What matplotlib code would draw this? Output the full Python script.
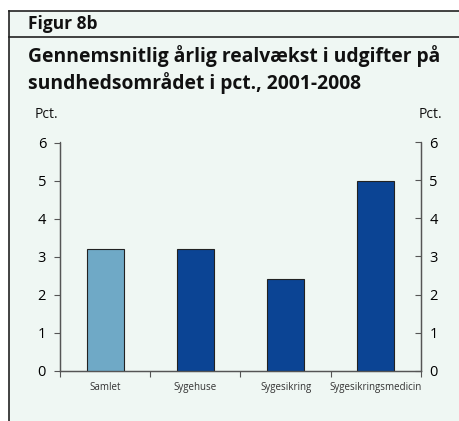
import matplotlib
matplotlib.use("Agg")
import matplotlib.pyplot as plt
from matplotlib.lines import Line2D
from matplotlib.patches import Rectangle

categories = ["Samlet", "Sygehuse", "Sygesikring", "Sygesikringsmedicin"]
values = [3.2, 3.2, 2.4, 5.0]
bar_colors = ["#6fa9c6", "#0b4494", "#0b4494", "#0b4494"]
yticks = [0, 1, 2, 3, 4, 5, 6]

BG = "#eff7f3"
SPINE = "#555555"
FONT = "Open Sans"

W, H = 460, 421
fig = plt.figure(figsize=(W / 100, H / 100), dpi=100)

# panel background and frame lines
fig.patches.append(Rectangle((9 / W, 0), 1 - 9 / W, 1 - 11 / H,
                             transform=fig.transFigure, facecolor=BG,
                             edgecolor="none", zorder=-10))
for xs, ys in [([9 / W, 9 / W], [0, 1 - 11 / H]),
               ([9 / W, 1], [1 - 11 / H, 1 - 11 / H]),
               ([9 / W, 1], [1 - 37 / H, 1 - 37 / H])]:
    fig.lines.append(Line2D(xs, ys, transform=fig.transFigure,
                            color="#222222", lw=1.2, zorder=-5))

fig.text(28 / W, 1 - 24 / H, "Figur 8b", fontsize=12.5, fontweight="bold",
         family=FONT, va="center", ha="left", color="#111111")
fig.text(28 / W, 1 - 56 / H, "Gennemsnitlig årlig realvækst i udgifter på",
         fontsize=13.9, fontweight="bold", family=FONT, va="center",
         ha="left", color="#111111")
fig.text(28 / W, 1 - 83 / H, "sundhedsområdet i pct., 2001-2008",
         fontsize=13.9, fontweight="bold", family=FONT, va="center",
         ha="left", color="#111111")

ax = fig.add_axes([60 / W, 50.5 / H, 361 / W, 228 / H])
ax.set_facecolor(BG)
x = range(len(categories))
ax.bar(x, values, width=0.41, color=bar_colors, edgecolor="#222222",
       linewidth=0.8, zorder=3)
ax.set_xlim(-0.5, len(categories) - 0.5)
ax.set_ylim(0, 6)
ax.set_yticks(yticks)
ax.set_xticks([i - 0.5 for i in range(len(categories) + 1)], minor=False)
ax.set_xticklabels([])
ax.set_xticks(list(x), minor=True)
ax.set_xticklabels(categories, minor=True, fontsize=7, family=FONT,
                   color="#333333")
ax.tick_params(axis="x", which="minor", length=0, pad=8)
ax.tick_params(axis="x", which="major", length=4, direction="out",
               color=SPINE)
ax.tick_params(axis="y", length=4, direction="out", color=SPINE,
               labelsize=10.5, pad=6)
for lbl in ax.get_yticklabels():
    lbl.set_family(FONT)
ax.spines["top"].set_visible(False)
for s in ["left", "right", "bottom"]:
    ax.spines[s].set_color(SPINE)
    ax.spines[s].set_linewidth(0.9)

ax2 = ax.twinx()
ax2.set_ylim(0, 6)
ax2.set_yticks(yticks)
ax2.tick_params(axis="y", length=4, direction="in", color=SPINE,
                labelsize=10.5, pad=6)
for lbl in ax2.get_yticklabels():
    lbl.set_family(FONT)
ax2.spines["top"].set_visible(False)
for s in ["left", "right", "bottom"]:
    ax2.spines[s].set_color(SPINE)
    ax2.spines[s].set_linewidth(0.9)

fig.text(46 / W, 1 - 114 / H, "Pct.", fontsize=10, family=FONT,
         ha="center", va="center", color="#111111")
fig.text(430 / W, 1 - 114 / H, "Pct.", fontsize=10, family=FONT,
         ha="center", va="center", color="#111111")

fig.savefig("out.png", dpi=100, facecolor="white")
